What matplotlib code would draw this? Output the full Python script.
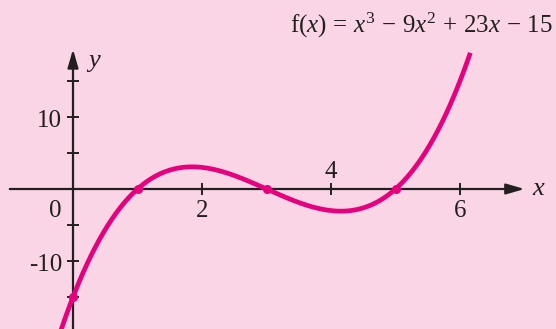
import numpy as np
import matplotlib
matplotlib.use("Agg")
import matplotlib.pyplot as plt

# Data
coeffs = [1, -9, 23, -15]          # f(x) = x^3 - 9x^2 + 23x - 15
key_x = [0, 1, 3, 5]               # y-intercept and roots
x_ticks = [2, 4, 6]
x_tick_labels = ["2", "4", "6"]
y_ticks = [-15, -10, -5, 5, 10, 15]
y_tick_labels = {10: "10", -10: "-10"}

plt.rcParams['font.family'] = ['Liberation Serif', 'DejaVu Serif']
plt.rcParams['mathtext.fontset'] = 'custom'
plt.rcParams['mathtext.rm'] = 'Liberation Serif'
plt.rcParams['mathtext.it'] = 'Liberation Serif:italic'

bg = '#F9D5E5'
curve_c = '#E6007E'
axis_c = '#231F20'

W, H = 556, 329
fig = plt.figure(figsize=(W/100, H/100), dpi=100, facecolor=bg)
ax = fig.add_axes([0, 0, 1, 1])
ax.set_facecolor(bg)
ax.axis('off')

px_x = 64.5   # px per unit x
px_y = 7.2    # px per unit y
ox, oy = 73, 189
ax.set_xlim(-ox/px_x, (W-ox)/px_x)
ax.set_ylim(-(H-oy)/px_y, oy/px_y)

# axes lines with arrows
ax.annotate('', xy=(7.0, 0), xytext=(-0.98, 0),
            arrowprops=dict(arrowstyle='-|>,head_length=1.1,head_width=0.32', color=axis_c, lw=1.6, shrinkA=0, shrinkB=0))
ax.annotate('', xy=(0, 19.4), xytext=(0, -20),
            arrowprops=dict(arrowstyle='-|>,head_length=1.1,head_width=0.32', color=axis_c, lw=1.6, shrinkA=0, shrinkB=0))

# ticks
tl_x = 5/px_y
tl_y = 5/px_x
for t in x_ticks:
    ax.plot([t, t], [-tl_x, tl_x], color=axis_c, lw=1.4)
for t in y_ticks:
    ax.plot([-tl_y, tl_y], [t, t], color=axis_c, lw=1.4)

fs = 18
ax.text(-0.28, -3.0, "0", fontsize=fs, ha='center', va='center', color=axis_c)
for t, lab in zip(x_ticks, x_tick_labels):
    if t == 4:
        ax.text(t, 2.3, lab, fontsize=fs, ha='center', va='center', color=axis_c)
    else:
        ax.text(t, -3.0, lab, fontsize=fs, ha='center', va='center', color=axis_c)
for t, lab in y_tick_labels.items():
    ax.text(-0.17, t - 0.6, lab, fontsize=fs, ha='right', va='center', color=axis_c)

ax.text(7.22, 0, r'$x$', fontsize=fs+1, ha='center', va='center', color=axis_c)
ax.text(0.32, 17.5, r'$y$', fontsize=fs+1, ha='center', va='center', color=axis_c)

# curve
xs = np.linspace(-0.4, 6.16, 600)
ys = np.polyval(coeffs, xs)
ax.plot(xs, ys, color=curve_c, lw=3.4, solid_capstyle='butt', zorder=5)
kx = np.array(key_x, dtype=float)
ax.plot(kx, np.polyval(coeffs, kx), 'o', color=curve_c, ms=5.5, zorder=6)

fig.text(553/W, 1 - 25/H, r'$\mathrm{f}(x)\,=\,x^3\,-\,9x^2\,+\,23x\,-\,15$', fontsize=fs,
         ha='right', va='center', color=axis_c)

fig.savefig('out.png', dpi=100, facecolor=bg)
